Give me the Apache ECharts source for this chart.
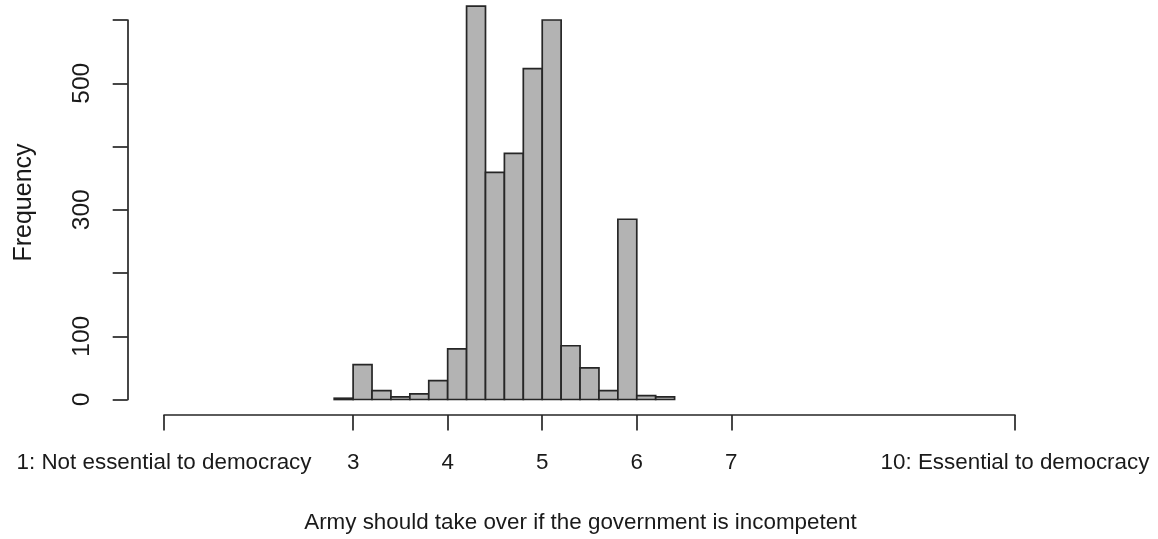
<!DOCTYPE html>
<html>
<head>
<meta charset="utf-8">
<title>Army should take over if the government is incompetent</title>
<script src="https://cdn.jsdelivr.net/npm/echarts@6/dist/echarts.min.js"></script>
<style>
  html, body { margin: 0; padding: 0; background: #ffffff; }
  #chart { width: 1158px; height: 539px; }
</style>
</head>
<body>
<div id="chart"></div>
<script>
// Histogram bins: first left edge and common width, then counts per bin
const binStart = 2.8;
const binWidth = 0.2;
const counts = [2, 55, 14, 4, 9, 30, 80, 622, 359, 389, 523, 600, 85, 50, 14, 285, 6, 4];

// Axis ticks and labels
const xTickValues = [1, 3, 4, 5, 6, 7, 10];
const xTickLabels = ['1: Not essential to democracy', '3', '4', '5', '6', '7', '10: Essential to democracy'];
const yTickValues = [0, 100, 200, 300, 400, 500, 600];
const yLabelValues = [0, 100, 300, 500];

const xTitle = 'Army should take over if the government is incompetent';
const yTitle = 'Frequency';

const FONT = '"Liberation Sans", Arial, sans-serif';
const INK = '#1a1a1a';
const LINE = '#262626';

const bins = counts.map((c, i) => [binStart + i * binWidth, binStart + (i + 1) * binWidth, c]);

const chart = echarts.init(document.getElementById('chart'), null, { renderer: 'canvas' });

chart.setOption({
  animation: false,
  backgroundColor: '#ffffff',
  grid: { left: 164, right: 143, top: 20, bottom: 139.5, containLabel: false },
  xAxis: {
    type: 'value',
    min: 1,
    max: 10,
    offset: 15.5,
    splitLine: { show: false },
    axisLine: { show: true, onZero: false, lineStyle: { color: LINE, width: 1.7 } },
    axisTick: { show: true, customValues: xTickValues, length: 15.5, lineStyle: { color: LINE, width: 1.7 } },
    axisLabel: {
      customValues: xTickValues,
      margin: 37,
      color: INK,
      fontFamily: FONT,
      fontSize: 22.4,
      formatter: (v) => xTickLabels[xTickValues.indexOf(v)] ?? ''
    }
  },
  yAxis: {
    type: 'value',
    min: 0,
    max: 600,
    offset: 36.3,
    splitLine: { show: false },
    axisLine: { show: true, onZero: false, lineStyle: { color: LINE, width: 1.7 } },
    axisTick: { show: true, customValues: yTickValues, length: 15, lineStyle: { color: LINE, width: 1.7 } },
    axisLabel: {
      customValues: yLabelValues,
      rotate: 90,
      margin: 33,
      color: INK,
      fontFamily: FONT,
      fontSize: 24.5
    }
  },
  graphic: [
    {
      type: 'text',
      x: 580.5,
      y: 522.5,
      style: {
        text: xTitle,
        fill: INK,
        font: '22.4px ' + FONT,
        align: 'center',
        verticalAlign: 'middle'
      }
    },
    {
      type: 'text',
      x: 24,
      y: 202.5,
      rotation: Math.PI / 2,
      style: {
        text: yTitle,
        fill: INK,
        font: '25px ' + FONT,
        align: 'center',
        verticalAlign: 'middle'
      }
    }
  ],
  series: [{
    type: 'custom',
    clip: false,
    data: bins,
    encode: { x: [0, 1], y: 2 },
    renderItem: (params, api) => {
      const p0 = api.coord([api.value(0), api.value(2)]);
      const p1 = api.coord([api.value(1), 0]);
      return {
        type: 'rect',
        shape: { x: p0[0], y: p0[1], width: p1[0] - p0[0], height: p1[1] - p0[1] },
        style: { fill: '#b3b3b3', stroke: LINE, lineWidth: 1.7 }
      };
    }
  }]
});
</script>
</body>
</html>
